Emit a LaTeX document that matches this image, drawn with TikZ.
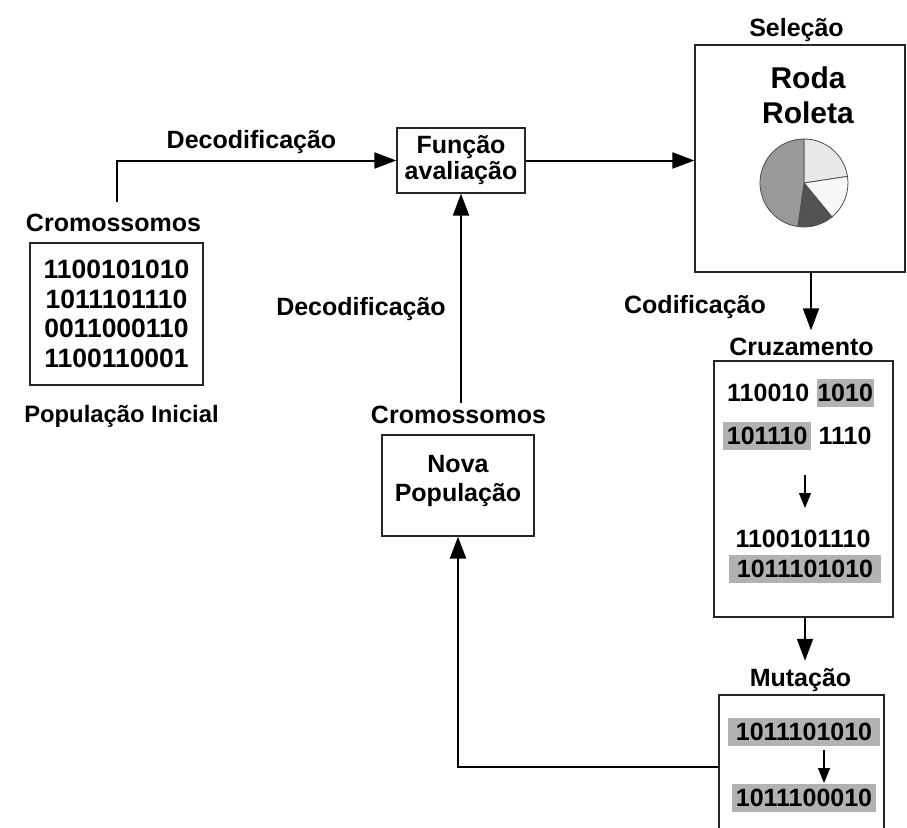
\documentclass[tikz,border=0pt]{standalone}
\usepackage{fontspec}
\setmainfont{Liberation Sans}
\usetikzlibrary{arrows.meta, positioning}

\definecolor{cinzabit}{gray}{0.70}
\definecolor{fatiaclara}{gray}{0.91}
\definecolor{fatiabranca}{gray}{0.97}
\definecolor{fatiaescura}{gray}{0.32}
\definecolor{fatiamedia}{gray}{0.60}

\tikzset{
  caixa/.style={draw=black!85, line width=1.2pt, inner sep=0pt},
  rotulo/.style={font=\bfseries\fontsize{25}{29.5}\selectfont, inner sep=0pt},
  bits/.style={rotulo, align=center},
  cinza/.style={rotulo, fill=cinzabit, minimum height=28pt},
  seta/.style={line width=2pt, -{Triangle[length=22pt, width=16pt]}},
  setinha/.style={line width=1.2pt, -{Triangle[length=15pt, width=12pt]}},
}

\begin{document}
\begin{tikzpicture}[x=1pt, y=-1pt]
  \useasboundingbox (0,0) rectangle (907,827);
  \clip (0,0) rectangle (907,827);

  % População inicial
  \node[rotulo, anchor=base] (cromA) at (113.5,231) {Cromossomos};
  \node[caixa, bits, font=\bfseries\fontsize{26.5}{29.5}\selectfont,
        minimum width=173pt, minimum height=142pt] (pop) at (116.5,314)
    {1100101010\\1011101110\\0011000110\\1100110001};
  \node[rotulo, font=\bfseries\fontsize{23.8}{28}\selectfont, anchor=base] (popT) at (121.5,422) {População Inicial};

  % Função de avaliação
  \node[caixa, bits, font=\bfseries\fontsize{25}{26}\selectfont,
        minimum width=128pt, minimum height=65pt] (func) at (461,160.5)
    {Função\\avaliação};
  \node[rotulo, anchor=base] (decA) at (251.5,148) {Decodificação};
  \node[rotulo, anchor=base] (decB) at (361,315) {Decodificação};

  % Seleção
  \node[rotulo, anchor=base] (selT) at (796.5,36) {Seleção};
  \node[caixa, minimum width=210pt, minimum height=227pt] (sel) at (800,158.5) {};
  \node[rotulo, font=\bfseries\fontsize{30}{35}\selectfont, anchor=base] (roda) at (808,88.5) {Roda};
  \node[rotulo, font=\bfseries\fontsize{30}{35}\selectfont, anchor=base] (roleta) at (808,123.5) {Roleta};
  \begin{scope}[shift={(804,183)}, y=1pt, draw=black!70, line width=0.8pt]
    \filldraw[fill=fatiaclara] (0,0) -- (90:44) arc[start angle=90, end angle=8.6, radius=44] -- cycle;
    \filldraw[fill=fatiabranca] (0,0) -- (8.6:44) arc[start angle=8.6, end angle=-50.6, radius=44] -- cycle;
    \filldraw[fill=fatiaescura] (0,0) -- (-50.6:44) arc[start angle=-50.6, end angle=-98, radius=44] -- cycle;
    \filldraw[fill=fatiamedia] (0,0) -- (262:44) arc[start angle=262, end angle=90, radius=44] -- cycle;
  \end{scope}
  \node[rotulo, anchor=base] (codT) at (695,313) {Codificação};

  % Cruzamento
  \node[rotulo, anchor=base] (cruzT) at (801.5,355) {Cruzamento};
  \node[caixa, minimum width=179pt, minimum height=256pt] (cruz) at (803.5,489) {};
  \node[bits, anchor=west] (c1a) at (727,392.5) {110010};
  \node[cinza, minimum width=57pt, right=7pt of c1a] (c1b) {1010};
  \node[cinza, minimum width=88pt, anchor=west] (c2a) at (723,436) {101110};
  \node[bits, right=7pt of c2a] (c2b) {1110};
  \node[bits] (c3) at (803,538.5) {1100101110};
  \node[cinza, minimum width=152pt] (c4) at (805,569) {1011101010};
  \coordinate (cA) at (805,475);
  \coordinate (cB) at (805,508);
  \draw[setinha] (cA) -- (cB);

  % Mutação
  \node[rotulo, anchor=base] (mutT) at (800.5,686) {Mutação};
  \node[caixa, minimum width=165pt, minimum height=144pt] (mut) at (801.5,767) {};
  \node[cinza, minimum width=152pt] (m1) at (804,732) {1011101010};
  \node[cinza, minimum width=144pt] (m2) at (804,798) {1011100010};
  \coordinate (mA) at (824,750);
  \coordinate (mB) at (824,783);
  \draw[setinha] (mA) -- (mB);

  % Nova população
  \node[rotulo, anchor=base] (cromB) at (458.5,423) {Cromossomos};
  \node[caixa, minimum width=152pt, minimum height=101pt] (nova) at (458,485.5) {};
  \node[bits] (novaT) at (458,481) {Nova\\População};

  % Ligações
  \draw[seta, shorten <=11pt] ([xshift=3pt]cromA.north) |- (func.west);
  \draw[seta] (func.east) -- (func.east -| sel.west);
  \draw[seta, shorten >=7pt] ([xshift=11pt]sel.south) -- ([xshift=9.5pt]cruzT.north);
  \draw[seta, shorten >=7pt] ([xshift=1.5pt]cruz.south) -- ([xshift=1.5pt]cruz.south |- mutT.north);
  \draw[seta] (mut.west) -| (nova.south);
  \draw[seta, shorten <=2pt] (cromB.north -| func.south) -- (func.south);
\end{tikzpicture}
\end{document}
